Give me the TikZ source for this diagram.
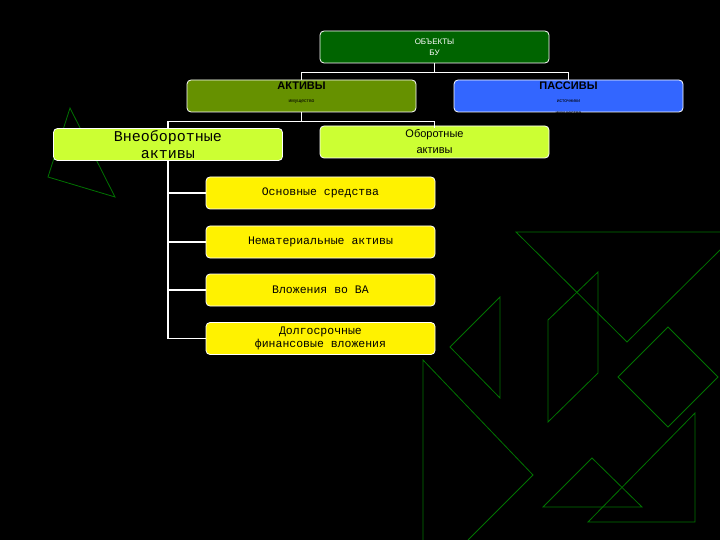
\documentclass[tikz,border=0pt]{standalone}
\usepackage{fontspec}
\setmainfont{Liberation Sans}
\newfontfamily\monof{Liberation Mono}
\definecolor{cobj}{RGB}{0,100,0}
\definecolor{cakt}{RGB}{102,145,0}
\definecolor{cpas}{RGB}{51,102,255}
\definecolor{clime}{RGB}{204,255,51}
\newcommand{\smallt}{\fontsize{5}{6}\selectfont}
\newcommand{\bigt}{\fontsize{11}{12}\selectfont\bfseries}
\begin{document}
\begin{tikzpicture}[x=1pt,y=-1pt,
 box/.style={draw=white,line width=0.8pt,rounded corners=4pt,minimum width=229pt,minimum height=32pt,inner sep=0pt,align=center},
 conn/.style={draw=white,line width=1.5pt},
 deco/.style={draw=green!45!black,line width=0.8pt}]
\fill[black] (0,0) rectangle (720,540);
\useasboundingbox (0,0) rectangle (720,540);
% decorations
\draw[deco] (70,108) -- (48,177) -- (115,197) -- cycle;
\draw[deco] (720,232) -- (516,232) -- (627,342) -- (720,250);
\draw[deco] (548,320) -- (598,272) -- (598,373) -- (548,422) -- cycle;
\draw[deco] (500,297) -- (450,347) -- (500,398) -- cycle;
\draw[deco] (668,327) -- (718,377) -- (668,427) -- (618,377) -- cycle;
\draw[deco] (423,540) -- (423,360) -- (533,475) -- (468,540);
\draw[deco] (592,458) -- (543,507) -- (642,507) -- cycle;
\draw[deco] (695,413) -- (695,522) -- (588,522) -- cycle;
% boxes
\node[box,fill=cobj,text=white,font=\fontsize{8}{11}\selectfont] (obj) at (434.5,47) {ОБЪЕКТЫ\\БУ};
\node[box,fill=cakt] (akt) at (301.5,96) {};
\node[anchor=north,align=center,inner sep=0pt] (akttext) at (301.5,82) {\bigt АКТИВЫ\\[1pt]\smallt имущество};
\node[box,fill=cpas] (pas) at (568.5,96) {};
\node[anchor=north,align=center,inner sep=0pt] (pastext) at (568.5,82) {\bigt ПАССИВЫ\\[1pt]\smallt источники\\\smallt имущества};
\node[box,fill=clime,font=\monof\fontsize{15}{17}\selectfont] (vne) at (168,144.5) {Внеоборотные\\активы};
\node[box,fill=clime,font=\fontsize{11}{16}\selectfont] (obo) at (434.5,142) {Оборотные\\активы};
\tikzset{ybox/.style={box,fill=yellow,font=\monof\fontsize{11.5}{13}\selectfont}}
\node[ybox] (os) at (320.5,193) {Основные средства};
\node[ybox] (nma) at (320.5,242) {Нематериальные активы};
\node[ybox] (vva) at (320.5,290) {Вложения во ВА};
\node[ybox] (dfv) at (320.5,338.5) {Долгосрочные\\финансовые вложения};
% connectors
\draw[conn] (obj.south) -- ++(0,9) -| (akt.north);
\draw[conn] (obj.south) ++(0,9) -| (pas.north);
\draw[conn] (akt.south) -- ++(0,9) -| (vne.north);
\draw[conn] (akt.south) ++(0,9) -| ([yshift=-2.5pt]obo.north);
\draw[conn] (vne.south) |- (dfv.west);
\draw[conn] (vne.south) |- (os.west);
\draw[conn] (vne.south) |- (nma.west);
\draw[conn] (vne.south) |- (vva.west);
\end{tikzpicture}
\end{document}
